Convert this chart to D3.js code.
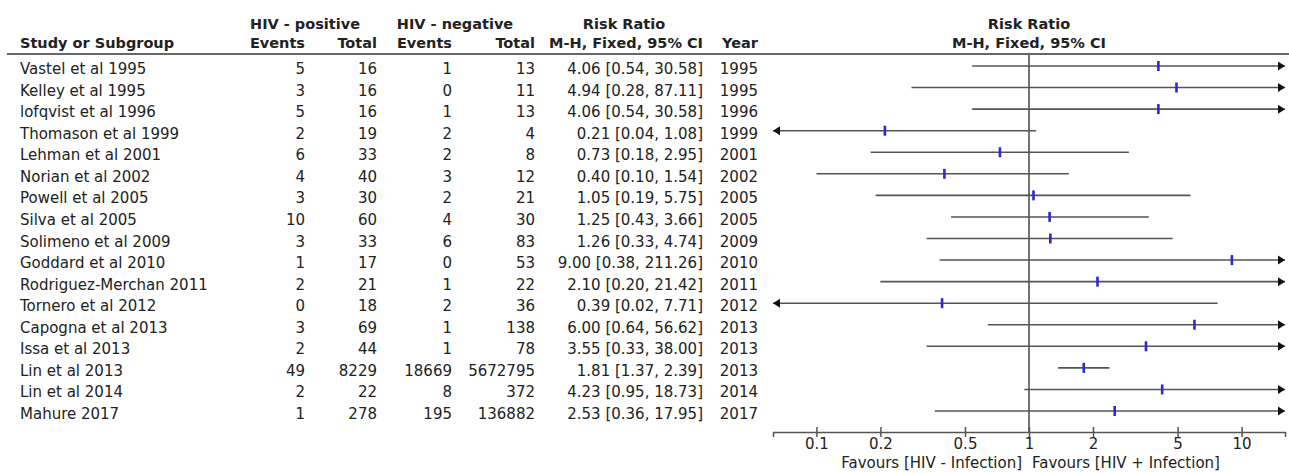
<!DOCTYPE html>
<html>
<head>
<meta charset="utf-8">
<script src="https://cdn.jsdelivr.net/npm/d3@7"></script>
<style>
  body { margin: 0; background: #fff; }
  text { font-family: "DejaVu Sans", Verdana, sans-serif; fill: #222; }
</style>
</head>
<body>
<div id="forest"></div>
<script>
var studies = ["Vastel et al 1995", "Kelley et al 1995", "lofqvist et al 1996", "Thomason et al 1999",
  "Lehman et al 2001", "Norian et al 2002", "Powell et al 2005", "Silva et al 2005",
  "Solimeno et al 2009", "Goddard et al 2010", "Rodriguez-Merchan 2011", "Tornero et al 2012",
  "Capogna et al 2013", "Issa et al 2013", "Lin et al 2013", "Lin et al 2014", "Mahure 2017"];
var posEvents = [5, 3, 5, 2, 6, 4, 3, 10, 3, 1, 2, 0, 3, 2, 49, 2, 1];
var posTotal = [16, 16, 16, 19, 33, 40, 30, 60, 33, 17, 21, 18, 69, 44, 8229, 22, 278];
var negEvents = [1, 0, 1, 2, 2, 3, 2, 4, 6, 0, 1, 2, 1, 1, 18669, 8, 195];
var negTotal = [13, 11, 13, 4, 8, 12, 21, 30, 83, 53, 22, 36, 138, 78, 5672795, 372, 136882];
var rr = [4.06, 4.94, 4.06, 0.21, 0.73, 0.40, 1.05, 1.25, 1.26, 9.00, 2.10, 0.39, 6.00, 3.55, 1.81, 4.23, 2.53];
var lo = [0.54, 0.28, 0.54, 0.04, 0.18, 0.10, 0.19, 0.43, 0.33, 0.38, 0.20, 0.02, 0.64, 0.33, 1.37, 0.95, 0.36];
var hi = [30.58, 87.11, 30.58, 1.08, 2.95, 1.54, 5.75, 3.66, 4.74, 211.26, 21.42, 7.71, 56.62, 38.00, 2.39, 18.73, 17.95];
var years = [1995, 1995, 1996, 1999, 2001, 2002, 2005, 2005, 2009, 2010, 2011, 2012, 2013, 2013, 2013, 2014, 2017];
var tickVals = [0.1, 0.2, 0.5, 1, 2, 5, 10];

var width = 1289, height = 473;
var svg = d3.select("#forest").append("svg")
  .attr("width", width)
  .attr("height", height);

var x = d3.scaleLog().domain([0.0625, 16]).range([773, 1285]);
var y = d3.scalePoint().domain(studies).range([66, 411]);
var axisY = 432;

// header
var hdr = svg.append("g").attr("font-weight", "bold").attr("font-size", "14.5px");
hdr.append("text").attr("x", 305).attr("y", 29).attr("text-anchor", "middle").text("HIV - positive");
hdr.append("text").attr("x", 455).attr("y", 29).attr("text-anchor", "middle").text("HIV - negative");
hdr.append("text").attr("x", 624).attr("y", 29).attr("text-anchor", "middle").text("Risk Ratio");
hdr.append("text").attr("x", x(1)).attr("y", 29).attr("text-anchor", "middle").text("Risk Ratio");
hdr.append("text").attr("x", 20).attr("y", 48).text("Study or Subgroup");
hdr.append("text").attr("x", 305).attr("y", 48).attr("text-anchor", "end").text("Events");
hdr.append("text").attr("x", 377).attr("y", 48).attr("text-anchor", "end").text("Total");
hdr.append("text").attr("x", 452).attr("y", 48).attr("text-anchor", "end").text("Events");
hdr.append("text").attr("x", 535).attr("y", 48).attr("text-anchor", "end").text("Total");
hdr.append("text").attr("x", 703).attr("y", 48).attr("text-anchor", "end").text("M-H, Fixed, 95% CI");
hdr.append("text").attr("x", 758).attr("y", 48).attr("text-anchor", "end").text("Year");
hdr.append("text").attr("x", x(1)).attr("y", 48).attr("text-anchor", "middle").text("M-H, Fixed, 95% CI");

svg.append("line")
  .attr("x1", 7).attr("x2", width)
  .attr("y1", 54).attr("y2", 54)
  .attr("stroke", "#666").attr("stroke-width", 2);

// table columns
var cols = [
  { x: 20, anchor: "start", get: function(i) { return studies[i]; } },
  { x: 305, anchor: "end", get: function(i) { return posEvents[i]; } },
  { x: 377, anchor: "end", get: function(i) { return posTotal[i]; } },
  { x: 452, anchor: "end", get: function(i) { return negEvents[i]; } },
  { x: 535, anchor: "end", get: function(i) { return negTotal[i]; } },
  { x: 703, anchor: "end", get: function(i) { return rr[i].toFixed(2) + " [" + lo[i].toFixed(2) + ", " + hi[i].toFixed(2) + "]"; } },
  { x: 758, anchor: "end", get: function(i) { return years[i]; } }
];

var rows = svg.append("g").attr("font-size", "15px");
cols.forEach(function(c) {
  rows.selectAll(null)
    .data(d3.range(studies.length))
    .enter().append("text")
    .attr("x", c.x)
    .attr("y", function(i) { return y(studies[i]) + 8; })
    .attr("text-anchor", c.anchor)
    .text(c.get);
});

// null line
svg.append("line")
  .attr("x1", x(1)).attr("x2", x(1))
  .attr("y1", 55).attr("y2", axisY)
  .attr("stroke", "#444").attr("stroke-width", 1.5);

// axis
var axis = d3.axisBottom(x)
  .tickValues(tickVals)
  .tickFormat(d3.format(""))
  .tickSizeOuter(0)
  .tickSize(5)
  .tickPadding(1);

var ax = svg.append("g")
  .attr("transform", "translate(0," + axisY + ")")
  .call(axis);
ax.select(".domain").attr("stroke", "#555").attr("stroke-width", 1.5);
ax.selectAll(".tick line").attr("y1", -5).attr("stroke", "#555").attr("stroke-width", 1.5);
ax.selectAll(".tick text")
  .style("font-family", "DejaVu Sans, Verdana, sans-serif")
  .style("font-size", "15px")
  .attr("fill", "#222");

svg.append("text").attr("x", x(1) - 7).attr("y", 468)
  .attr("text-anchor", "end").attr("font-size", "15px")
  .text("Favours [HIV - Infection]");
svg.append("text").attr("x", x(1) + 3).attr("y", 468)
  .attr("text-anchor", "start").attr("font-size", "15px")
  .text("Favours [HIV + Infection]");

// CI lines
var xmin = x.domain()[0], xmax = x.domain()[1];
var ci = svg.append("g");
studies.forEach(function(s, i) {
  var yy = y(s);
  var x1 = x(Math.max(lo[i], xmin));
  var x2 = x(Math.min(hi[i], xmax));
  ci.append("line")
    .attr("x1", x1).attr("x2", x2)
    .attr("y1", yy).attr("y2", yy)
    .attr("stroke", "#555").attr("stroke-width", 1.6);
  if (hi[i] > xmax) {
    ci.append("path")
      .attr("d", "M" + x2 + "," + yy + "l-7,-4.5l0,9z")
      .attr("fill", "#111");
  }
  if (lo[i] < xmin) {
    ci.append("path")
      .attr("d", "M" + x1 + "," + yy + "l7,-4.5l0,9z")
      .attr("fill", "#111");
  }
  ci.append("rect")
    .attr("x", x(rr[i]) - 1.3)
    .attr("y", yy - 5)
    .attr("width", 2.6)
    .attr("height", 10)
    .attr("fill", "#2a2ad0");
});
</script>
</body>
</html>
